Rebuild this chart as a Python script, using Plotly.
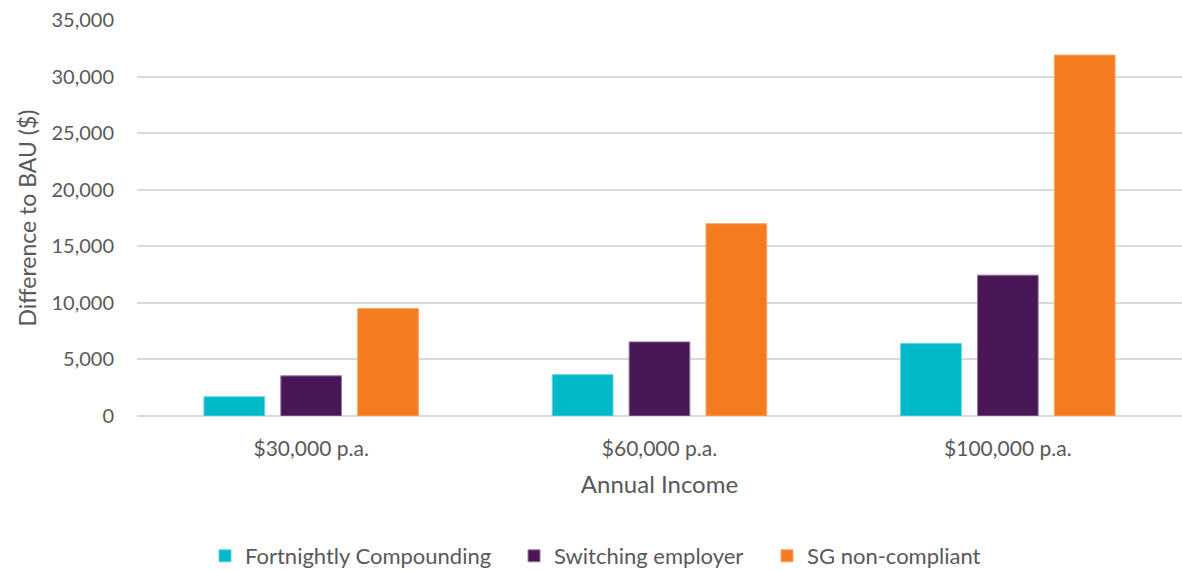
import plotly.graph_objects as go

# Annual income groups
categories = ["$30,000 p.a.", "$60,000 p.a.", "$100,000 p.a."]

# Difference to BAU ($) per scenario
fortnightly_compounding = [1700, 3650, 6400]
switching_employer = [3550, 6550, 12450]
sg_non_compliant = [9500, 17000, 31900]

# name, values, fill, edge, legend id, legend left position (px)
series = [
    ("Fortnightly Compounding", fortnightly_compounding, "#00B9C8", "#5fd3dc", "legend", 205),
    ("Switching employer", switching_employer, "#4A1756", "#9a7aa3", "legend2", 514),
    ("SG non-compliant", sg_non_compliant, "#F47B20", "#f7a768", "legend3", 767),
]

TEXT = "#595959"
GRID = "#d9d9d9"
FONT = "Lato, Carlito, Calibri, sans-serif"
W, H = 1182, 570

fig = go.Figure()
legends = {}
for name, vals, color, edge, lg, lx in series:
    fig.add_trace(go.Bar(
        name=name, x=categories, y=vals, legend=lg,
        marker=dict(color=color, line=dict(color=edge, width=1)),
    ))
    legends[lg] = dict(
        orientation="h", xref="container", x=lx / W, xanchor="left",
        yref="container", y=14 / H, yanchor="middle",
        font=dict(size=22, color=TEXT), itemwidth=30,
        bgcolor="rgba(0,0,0,0)",
    )

fig.update_layout(
    width=W, height=H,
    margin=dict(l=137, r=0, t=20, b=154, autoexpand=False),
    paper_bgcolor="white", plot_bgcolor="white",
    barmode="group", bargap=0.338, bargroupgap=0.21,
    font=dict(family=FONT, size=21, color=TEXT),
    showlegend=True,
    xaxis=dict(
        title=dict(text="Annual Income", font=dict(size=24, color=TEXT), standoff=17),
        tickfont=dict(size=21, color=TEXT),
        showgrid=False, showline=False, ticks="", ticklabelstandoff=18,
        automargin=False,
    ),
    yaxis=dict(
        title=dict(text="Difference to BAU ($)", font=dict(size=23, color=TEXT), standoff=8),
        range=[0, 35000], dtick=5000, tickformat=",",
        tickfont=dict(size=20, color=TEXT),
        showgrid=True, gridcolor=GRID, gridwidth=1.5,
        zeroline=True, zerolinecolor=GRID, zerolinewidth=1.5,
        showline=False, ticks="", ticklabelstandoff=22,
        automargin=False,
    ),
    **legends,
)

fig.write_html("out.html")
